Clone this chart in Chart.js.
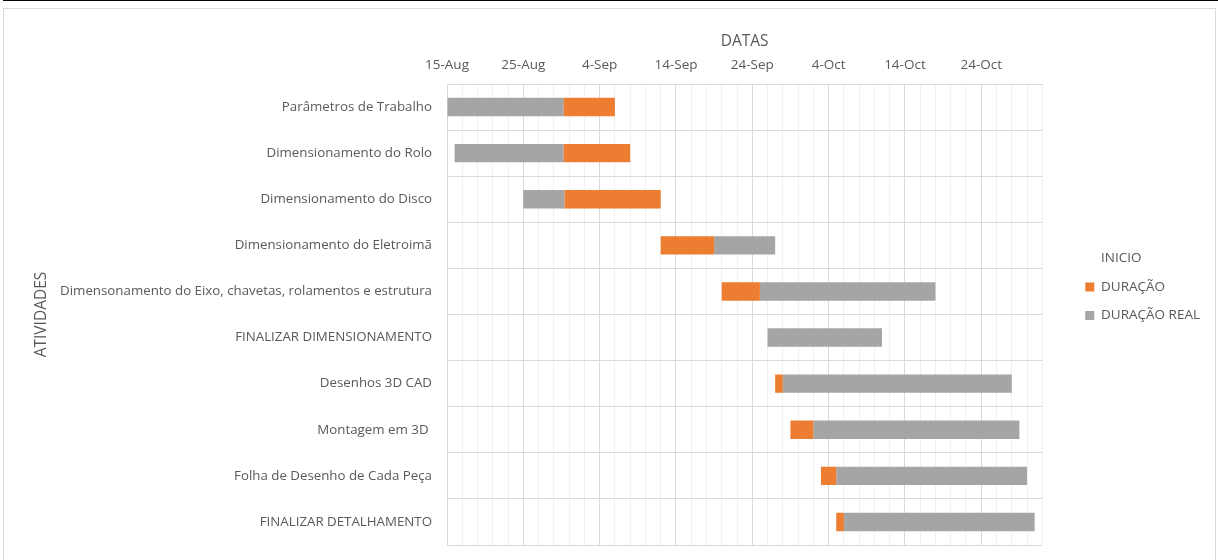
<!DOCTYPE html>
<html>
<head>
<meta charset="utf-8">
<title>Cronograma</title>
<script src="https://cdn.jsdelivr.net/npm/chart.js@4.4.0/dist/chart.umd.min.js"></script>
<style>
  html, body { margin: 0; padding: 0; background: #fff; width: 1218px; height: 560px; overflow: hidden; }
  #topline { position: absolute; left: 3px; top: 0; width: 1215px; height: 1px; background: #000; }
  #frame { position: absolute; left: 3px; top: 8px; width: 1211px; height: 560px; border: 1px solid #d9d9d9; border-bottom: none; }
  #wrap { position: absolute; left: 4px; top: 9px; width: 1210px; height: 551px; }
</style>
</head>
<body>
<div id="topline"></div>
<div id="frame"></div>
<div id="wrap"><canvas id="gantt" width="1210" height="551"></canvas></div>
<script>
// Activities, top to bottom
const atividades = [
  'Parâmetros de Trabalho',
  'Dimensionamento do Rolo',
  'Dimensionamento do Disco',
  'Dimensionamento do Eletroimã',
  'Dimensonamento do Eixo, chavetas, rolamentos e estrutura',
  'FINALIZAR DIMENSIONAMENTO',
  'Desenhos 3D CAD',
  'Montagem em 3D ',
  'Folha de Desenho de Cada Peça',
  'FINALIZAR DETALHAMENTO'
];

// Date axis: days counted from 15-Aug
const tickDays = [0, 10, 20, 30, 40, 50, 60, 70];
const tickLabels = ['15-Aug', '25-Aug', '4-Sep', '14-Sep', '24-Sep', '4-Oct', '14-Oct', '24-Oct'];
const axisEnd = 78;   // 1-Nov

// Start day of each activity (hidden series)
const inicio = [0, 1, 10, 28, 36, 42, 43, 45, 49, 51];

// Planned duration [from, to] in days
const duracao = [
  [15.3, 22], [15.3, 24], [15.4, 28], [28, 35], [36, 41],
  null, [43, 44], [45, 48], [49, 51], [51, 52]
];

// Real duration [from, to] in days
const duracaoReal = [
  [0, 15.3], [1, 15.3], [10, 15.4], [35, 43], [41, 64],
  [42, 57], [44, 74], [48, 75], [51, 76], [52, 77]
];

Chart.defaults.font.family = '"Open Sans", "Noto Sans", sans-serif';
Chart.defaults.color = '#595959';

const textGrey = '#595959';
const lineGrey = '#d9d9d9';
const minorGrey = '#f0f0f0';

// Nudges the legend block towards the right edge of the frame
const legendOffset = {
  id: 'legendOffset',
  afterLayout(chart) {
    const l = chart.legend;
    if (!l) return;
    l.left += 28; l.right += 28;
    l.top += 10; l.bottom += 10;
  }
};

new Chart(document.getElementById('gantt'), {
  type: 'bar',
  plugins: [legendOffset],
  data: {
    labels: atividades,
    datasets: [
      {
        label: 'INICIO',
        data: inicio.map(d => [0, d]),
        backgroundColor: 'rgba(0,0,0,0)',
        borderWidth: 0
      },
      {
        label: 'DURAÇÃO',
        data: duracao,
        backgroundColor: '#ED7D31',
        borderWidth: 0
      },
      {
        label: 'DURAÇÃO REAL',
        data: duracaoReal,
        backgroundColor: '#A5A5A5',
        borderWidth: 0
      }
    ]
  },
  options: {
    indexAxis: 'y',
    responsive: false,
    animation: false,
    grouped: false,
    categoryPercentage: 1,
    barPercentage: 0.4,
    layout: { padding: { top: 0, right: 32, bottom: 15, left: 0 } },
    plugins: {
      tooltip: { enabled: false },
      legend: {
        position: 'right',
        labels: {
          boxWidth: 9,
          boxHeight: 9,
          padding: 15,
          color: textGrey,
          font: { size: 13.5 }
        }
      }
    },
    scales: {
      x: {
        type: 'linear',
        position: 'top',
        min: 0,
        max: axisEnd,
        afterFit: s => { s.height = 75; },
        ticks: {
          stepSize: 2,
          autoSkip: false,
          maxRotation: 0,
          padding: 11,
          color: textGrey,
          font: { size: 13.5 },
          callback: v => {
            const i = tickDays.indexOf(Math.round(v));
            return i >= 0 ? tickLabels[i] : '';
          }
        },
        grid: {
          drawTicks: false,
          color: c => (c.tick && tickDays.includes(Math.round(c.tick.value))) ? lineGrey : minorGrey
        },
        border: { color: lineGrey },
        title: {
          display: true,
          text: 'DATAS',
          color: textGrey,
          font: { size: 15.5 },
          padding: { top: 23, bottom: 0 }
        }
      },
      y: {
        afterFit: s => { s.width = 443; s.paddingTop = 0; s.paddingBottom = 0; },
        ticks: {
          padding: 15,
          color: textGrey,
          font: { size: 13.3 }
        },
        grid: { drawTicks: false, color: lineGrey },
        border: { color: lineGrey },
        title: {
          display: true,
          text: 'ATIVIDADES',
          color: textGrey,
          font: { size: 15.5 },
          padding: { top: 28, bottom: 0 }
        }
      }
    }
  }
});
</script>
</body>
</html>
